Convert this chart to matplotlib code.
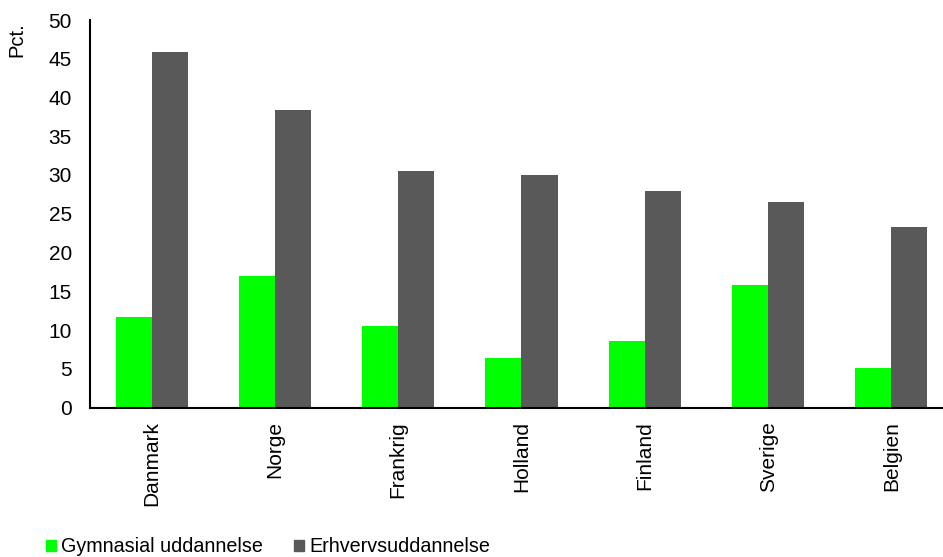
import numpy as np
import matplotlib.pyplot as plt
from matplotlib.patches import Patch

plt.rcParams['font.family'] = ['Liberation Sans', 'DejaVu Sans']

# data
lande = ['Danmark', 'Norge', 'Frankrig', 'Holland', 'Finland', 'Sverige', 'Belgien']
gymnasial = [11.7, 17.0, 10.5, 6.4, 8.6, 15.8, 5.1]
erhverv = [45.9, 38.4, 30.5, 30.0, 27.9, 26.5, 23.3]
serier = ['Gymnasial uddannelse', 'Erhvervsuddannelse']
farver = ['#00ff00', '#595959']
yticks = list(range(0, 51, 5))

fig = plt.figure(figsize=(9.43, 5.57), dpi=100)
# axes runs a bit past the right edge, like the cropped original
ax = fig.add_axes([90 / 943, 149.5 / 557, 863 / 943, 387.5 / 557])

x = np.arange(len(lande))
w = 0.293
ax.bar(x - w / 2, gymnasial, w, color=farver[0])
ax.bar(x + w / 2, erhverv, w, color=farver[1])

ax.set_xlim(-0.5, len(lande) - 0.5)
ax.set_ylim(0, 50)
ax.set_yticks(yticks)
ax.set_xticks(x)
ax.set_xticklabels(lande, rotation=90)
ax.tick_params(axis='both', length=0, labelsize=15, colors='black')
ax.tick_params(axis='y', pad=13)
ax.tick_params(axis='x', pad=10)

for s in ['top', 'right']:
    ax.spines[s].set_visible(False)
for s in ['left', 'bottom']:
    ax.spines[s].set_linewidth(1.5)
    ax.spines[s].set_color('black')

fig.text(17 / 943, 1 - 40 / 557, 'Pct.', rotation=90, ha='center', va='center', fontsize=14.5)

handles = [Patch(color=c, label=l) for c, l in zip(farver, serier)]
fig.legend(handles=handles, loc='center left', bbox_to_anchor=(46 / 943, 1 - 547 / 557),
           ncol=2, frameon=False, fontsize=14.2, handlelength=0.5, handleheight=0.5,
           handletextpad=0.25, columnspacing=1.6, borderaxespad=0, borderpad=0)

fig.savefig('out.png', dpi=100)
